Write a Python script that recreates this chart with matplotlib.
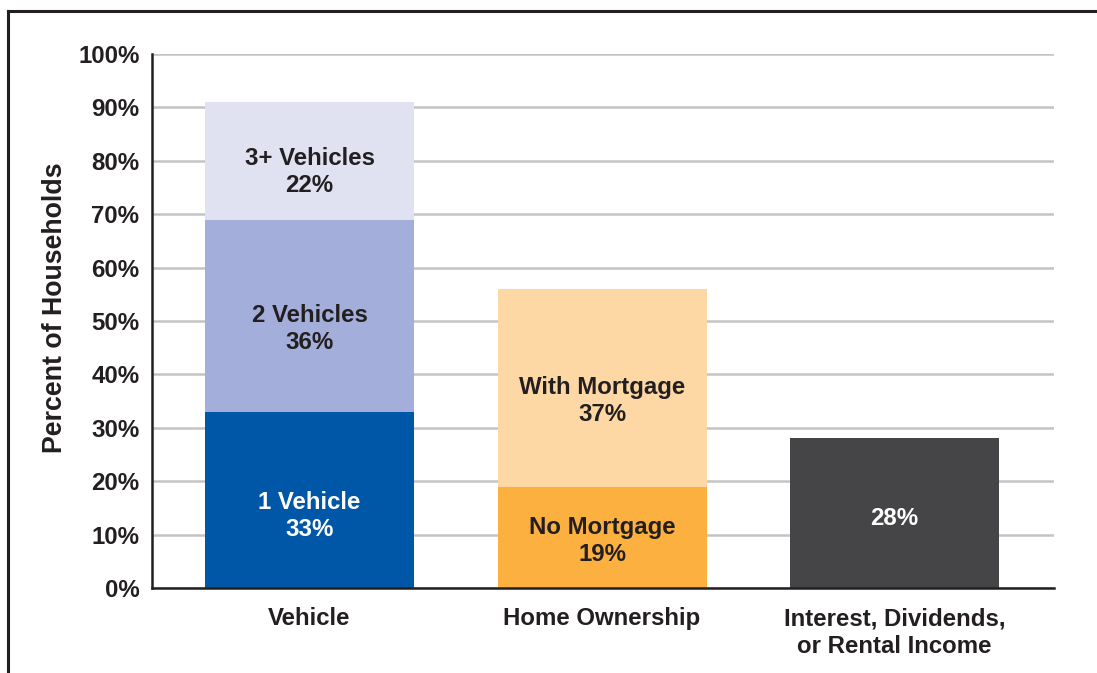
import matplotlib
matplotlib.use("Agg")
import matplotlib.pyplot as plt
from matplotlib.lines import Line2D

plt.rcParams['font.family'] = ['Liberation Sans', 'DejaVu Sans']
plt.rcParams['font.weight'] = 'bold'

categories = ["Vehicle", "Home Ownership", "Interest, Dividends,\nor Rental Income"]

vehicle_values = [33, 36, 22]
vehicle_labels = ["1 Vehicle", "2 Vehicles", "3+ Vehicles"]
home_values = [19, 37]
home_labels = ["No Mortgage", "With Mortgage"]
income_values = [28]
income_labels = [""]

yticks = [0, 10, 20, 30, 40, 50, 60, 70, 80, 90, 100]
ytick_labels = [f"{v}%" for v in yticks]

vehicle_colors = ["#0057A7", "#A3AEDA", "#E0E2F2"]
vehicle_text = ["white", "#231F20", "#231F20"]
vehicle_off = [-16, -13.5, -11]
home_colors = ["#FBB040", "#FDD8A4"]
home_text = ["#231F20", "#231F20"]
home_off = [-4, -13.5]
income_colors = ["#454547"]
income_text = ["white"]
income_off = [-5]

FS = 17.3
DARK = '#231F20'

fig = plt.figure(figsize=(10.97, 6.73), dpi=100)
ax = fig.add_axes([152/1097, 1 - 588/673, (1054-152)/1097, (588-54)/673])

width = 0.7145
groups = [
    (0, vehicle_values, vehicle_labels, vehicle_colors, vehicle_text, vehicle_off),
    (1, home_values, home_labels, home_colors, home_text, home_off),
    (2, income_values, income_labels, income_colors, income_text, income_off),
]
for x, vals, labs, cols, tcols, offs in groups:
    bottom = 0
    for v, lab, c, tc, off in zip(vals, labs, cols, tcols, offs):
        ax.bar(x, v, width=width, bottom=bottom, color=c, zorder=3, linewidth=0)
        txt = f"{lab}\n{v}%" if lab else f"{v}%"
        ax.annotate(txt, xy=(x, bottom + v / 2), xytext=(0, off * 0.72),
                    textcoords='offset points', ha='center', va='center',
                    fontsize=FS, fontweight='bold', color=tc, zorder=4,
                    linespacing=1.23)
        bottom += v

ax.set_xlim(-0.5385, 2.545)
ax.set_ylim(0, 100)
ax.set_yticks(yticks)
ax.set_yticklabels(ytick_labels, fontsize=FS, fontweight='bold', color=DARK)
ax.set_xticks([0, 1, 2])
ax.set_xticklabels(categories, fontsize=FS, fontweight='bold', color=DARK,
                   linespacing=1.27, va='top')
ax.tick_params(axis='y', length=0, pad=9)
ax.tick_params(axis='x', length=0, pad=14)
ax.yaxis.grid(True, color='#C4C4C4', linewidth=1.8, zorder=0)
ax.set_axisbelow(True)
for s in ['top', 'right']:
    ax.spines[s].set_visible(False)
for s in ['left', 'bottom']:
    ax.spines[s].set_color(DARK)
    ax.spines[s].set_linewidth(1.8)
    ax.spines[s].set_zorder(5)
ax.set_ylabel("Percent of Households", fontsize=19.3, fontweight='bold', color=DARK)
ax.yaxis.set_label_coords((68 - 152) / (1054 - 152), 0.524)

# outer frame (left and top)
fig.add_artist(Line2D([8/1097, 8/1097], [0, 1 - 11/673], transform=fig.transFigure,
                      color=DARK, linewidth=2.2))
fig.add_artist(Line2D([8/1097, 1], [1 - 11/673, 1 - 11/673], transform=fig.transFigure,
                      color=DARK, linewidth=2.2))

fig.savefig("out.png", dpi=100)
